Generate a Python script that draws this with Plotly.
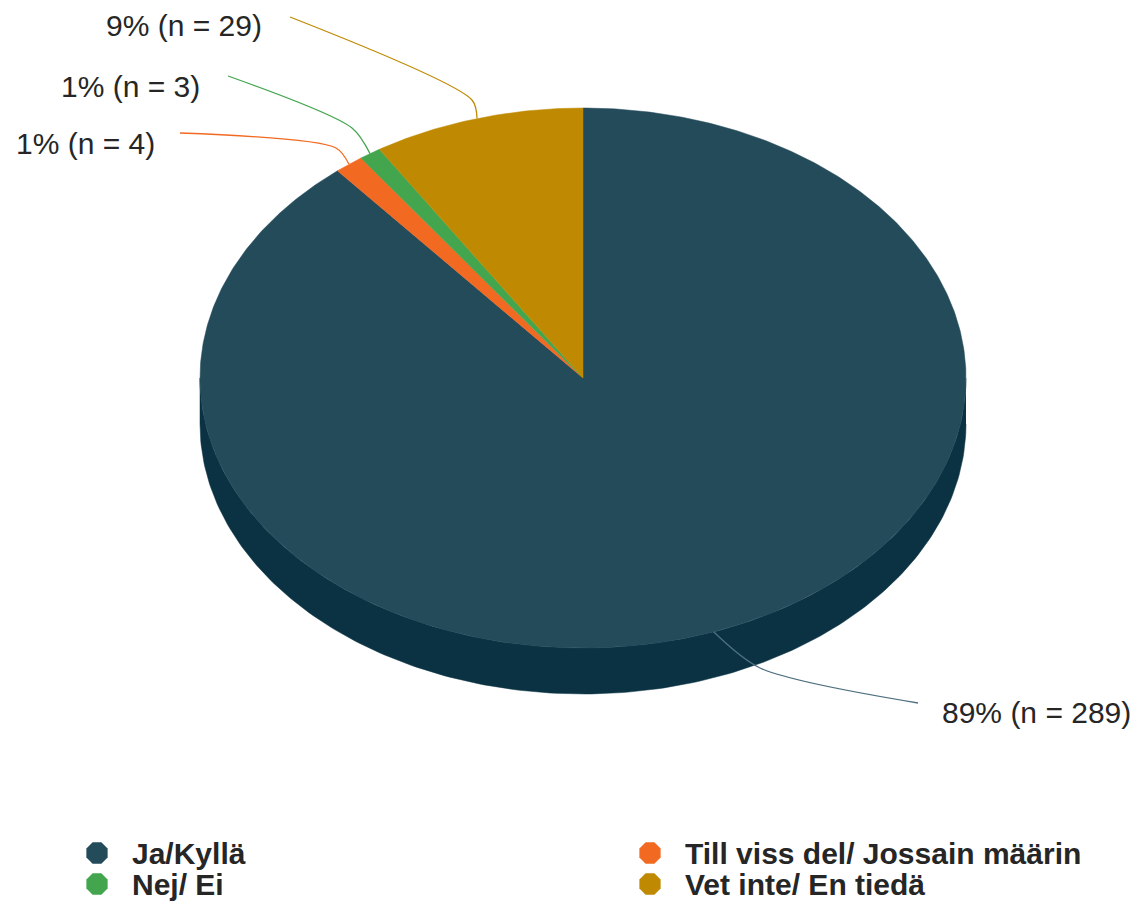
import numpy as np
import plotly.graph_objects as go

# ---- data ----
categories = ["Ja/Kyllä", "Till viss del/ Jossain määrin", "Nej/ Ei", "Vet inte/ En tiedä"]
counts = [289, 4, 3, 29]
percent_labels = ["89%", "1%", "1%", "9%"]
top_colors = ["#234B5A", "#F26A22", "#43A64F", "#BF8A02"]
side_colors = ["#0B3242", "#B84E16", "#2F7A38", "#8C6501"]

# ---- geometry (layout) ----
W, H = 1138, 904
OFF = 8  # default body margin of the page
cx, cy = 583, 378
rx, ry = 383, 270
depth = 46


def pt(theta_deg, dy=0.0):
    t = np.radians(theta_deg)
    return cx + rx * np.sin(t), cy - ry * np.cos(t) + dy


total = sum(counts)
bounds = np.concatenate([[0], np.cumsum(counts)]) / total * 360.0

fig = go.Figure()

# side walls (front half 90..270 degrees)
for i, c in enumerate(categories):
    a0, a1 = bounds[i], bounds[i + 1]
    s0, s1 = max(a0, 90), min(a1, 270)
    if s1 <= s0:
        continue
    th = np.linspace(s0, s1, 200)
    xs_top, ys_top = pt(th)
    xs_bot, ys_bot = pt(th[::-1], depth)
    fig.add_trace(go.Scatter(
        x=np.concatenate([xs_top, xs_bot]), y=np.concatenate([ys_top, ys_bot]),
        fill="toself", fillcolor=side_colors[i], mode="lines",
        line=dict(width=0.5, color=side_colors[i]), hoverinfo="skip", showlegend=False))

# top face slices
for i, c in enumerate(categories):
    a0, a1 = bounds[i], bounds[i + 1]
    th = np.linspace(a0, a1, max(int((a1 - a0) * 2), 8))
    xs, ys = pt(th)
    fig.add_trace(go.Scatter(
        x=np.concatenate([[cx], xs, [cx]]), y=np.concatenate([[cy], ys, [cy]]),
        fill="toself", fillcolor=top_colors[i], mode="lines",
        line=dict(width=0.5, color=top_colors[i]), name=c,
        hovertemplate=f"{c}: {counts[i]}<extra></extra>", showlegend=False))

# leader lines & labels
label_cfg = [
    # (elbow, end, text x, text y, anchor, line color)
    ((760, 668), (918, 703), 940, 712, "left", "#4E7080"),
    ((336, 148), (180, 133), 157, 143, "right", "#F26A22"),
    ((352, 128), (228, 76), 202, 86, "right", "#43A64F"),
    ((472, 100), (290, 17), 264, 25, "right", "#BF8A02"),
]
for i, c in enumerate(categories):
    mid = (bounds[i] + bounds[i + 1]) / 2
    ax, ay = pt(mid)
    (ex, ey), (lx, ly), tx, ty, anc, lc = label_cfg[i]
    fig.add_trace(go.Scatter(
        x=[ax, ex, lx], y=[ay, ey, ly], mode="lines",
        line=dict(color=lc, width=1.3, shape="spline", smoothing=0.8),
        hoverinfo="skip", showlegend=False))
    fig.add_annotation(x=tx, y=ty, xref="x", yref="y", showarrow=False,
                       text=f"{percent_labels[i]} (n = {counts[i]})",
                       xanchor=anc, yanchor="middle",
                       font=dict(family="Liberation Sans, Arial", size=30, color="#262626"))

# legend (drawn manually to match large markers)
leg_pos = [(97, 853), (650, 853), (97, 884), (650, 884)]
for i, c in enumerate(categories):
    mx, my = leg_pos[i]
    fig.add_trace(go.Scatter(
        x=[mx], y=[my], mode="markers",
        marker=dict(symbol="octagon", size=23, color=top_colors[i], line=dict(width=0)),
        hoverinfo="skip", showlegend=False))
    fig.add_annotation(x=mx + 33, y=my, xref="x", yref="y", showarrow=False,
                       text=f"<b>{c}</b>", xanchor="left", yanchor="middle",
                       font=dict(family="Liberation Sans, Arial", size=30, color="#262626"))

fig.update_layout(
    width=W - OFF, height=H - OFF,
    margin=dict(l=0, r=0, t=0, b=0),
    paper_bgcolor="white", plot_bgcolor="white",
    xaxis=dict(range=[OFF, W], visible=False, fixedrange=True),
    yaxis=dict(range=[H, OFF], visible=False, fixedrange=True),
    showlegend=False,
)

fig.write_html("out.html")
